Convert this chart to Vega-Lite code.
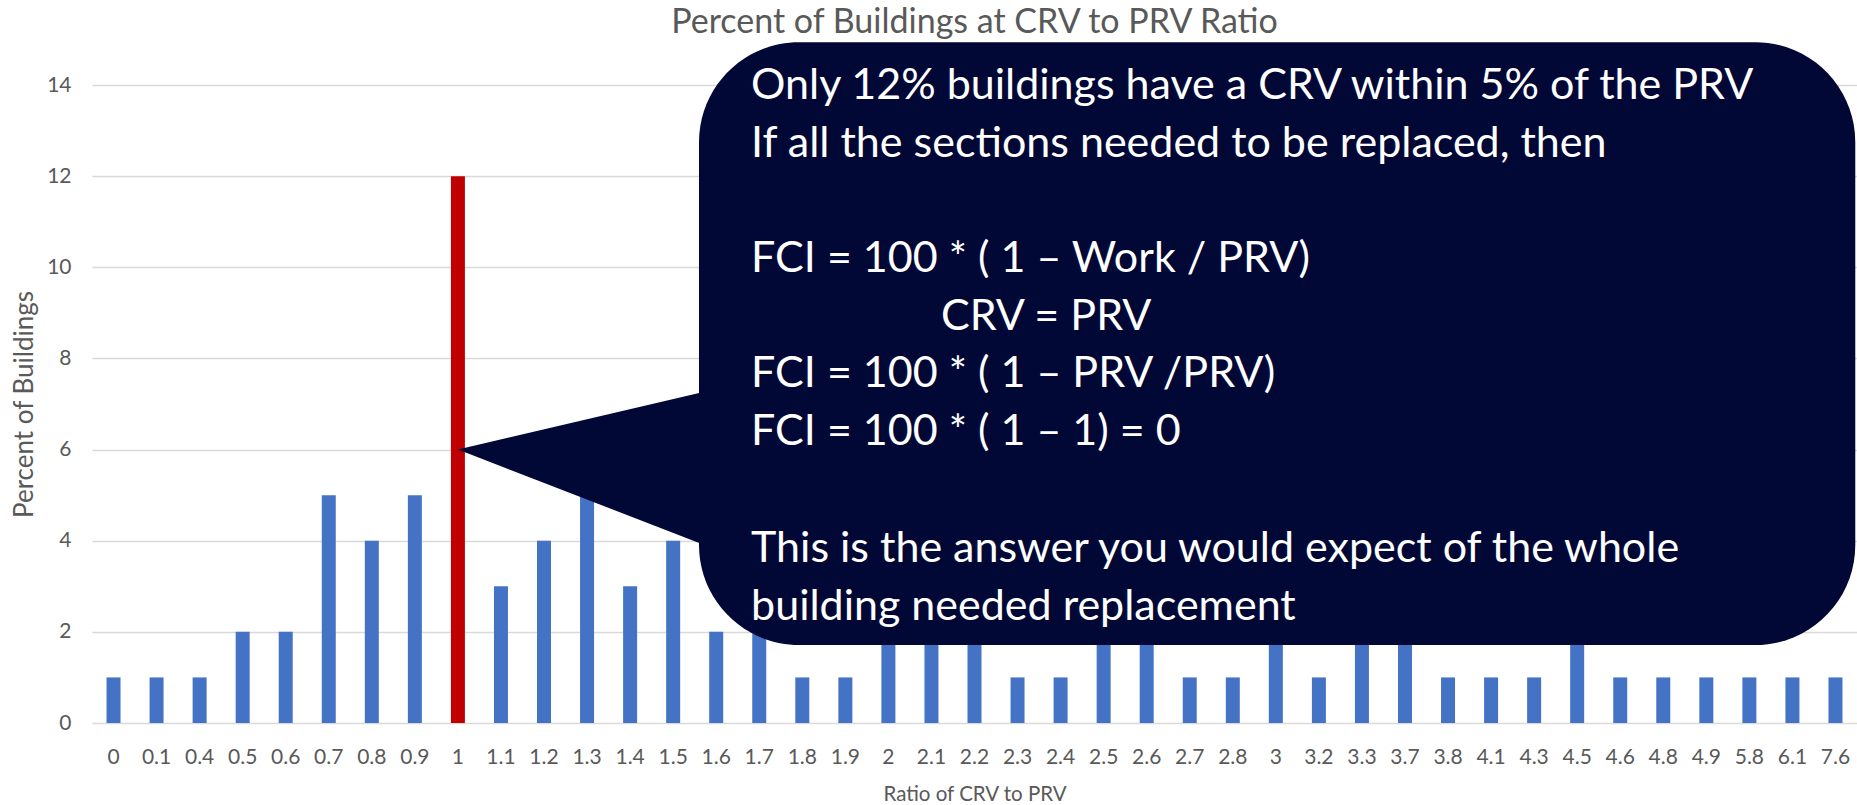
{
  "$schema": "https://vega.github.io/schema/vega-lite/v6.json",
  "width": 1765,
  "height": 638,
  "autosize": {"type": "none"},
  "padding": {"left": 92, "top": 85, "right": 0, "bottom": 82},
  "background": "white",
  "title": {"text": "Percent of Buildings at CRV to PRV Ratio", "font": "Lato", "fontSize": 34, "fontWeight": "normal", "color": "#595959", "anchor": "middle", "frame": "group", "baseline": "alphabetic", "offset": -25},
  "config": {
    "view": {"stroke": null},
    "axis": {"domain": false, "ticks": false, "labelColor": "#595959", "titleColor": "#595959", "labelFont": "Lato", "titleFont": "Lato", "titleFontWeight": "normal", "gridColor": "#d9d9d9", "gridWidth": 1.3},
    "text": {"font": "Lato", "fontSize": 43, "color": "white", "align": "left", "baseline": "alphabetic", "lineBreak": "\n", "lineHeight": 57.7}
  },
  "datasets": {
    "bars": [
      {"ratio": "0", "percent": 1}, {"ratio": "0.1", "percent": 1}, {"ratio": "0.4", "percent": 1}, {"ratio": "0.5", "percent": 2},
      {"ratio": "0.6", "percent": 2}, {"ratio": "0.7", "percent": 5}, {"ratio": "0.8", "percent": 4}, {"ratio": "0.9", "percent": 5},
      {"ratio": "1", "percent": 12}, {"ratio": "1.1", "percent": 3}, {"ratio": "1.2", "percent": 4}, {"ratio": "1.3", "percent": 5},
      {"ratio": "1.4", "percent": 3}, {"ratio": "1.5", "percent": 4}, {"ratio": "1.6", "percent": 2}, {"ratio": "1.7", "percent": 3},
      {"ratio": "1.8", "percent": 1}, {"ratio": "1.9", "percent": 1}, {"ratio": "2", "percent": 3}, {"ratio": "2.1", "percent": 4},
      {"ratio": "2.2", "percent": 3}, {"ratio": "2.3", "percent": 1}, {"ratio": "2.4", "percent": 1}, {"ratio": "2.5", "percent": 3},
      {"ratio": "2.6", "percent": 3}, {"ratio": "2.7", "percent": 1}, {"ratio": "2.8", "percent": 1}, {"ratio": "3", "percent": 3},
      {"ratio": "3.2", "percent": 1}, {"ratio": "3.3", "percent": 3}, {"ratio": "3.7", "percent": 3}, {"ratio": "3.8", "percent": 1},
      {"ratio": "4.1", "percent": 1}, {"ratio": "4.3", "percent": 1}, {"ratio": "4.5", "percent": 2}, {"ratio": "4.6", "percent": 1},
      {"ratio": "4.8", "percent": 1}, {"ratio": "4.9", "percent": 1}, {"ratio": "5.8", "percent": 1}, {"ratio": "6.1", "percent": 1},
      {"ratio": "7.6", "percent": 1}
    ]
  },
  "layer": [
    {
      "data": {"name": "bars"},
      "mark": {"type": "bar"},
      "encoding": {
        "x": {"field": "ratio", "type": "ordinal", "sort": null,
              "scale": {"paddingInner": 0.675, "paddingOuter": 0.3375},
              "axis": {"title": "Ratio of CRV to PRV", "labelAngle": 0, "labelFontSize": 21, "labelPadding": 23, "labelOverlap": false, "titleFontSize": 20.5, "titlePadding": 17, "grid": false}},
        "y": {"field": "percent", "type": "quantitative",
              "scale": {"domain": [0, 14], "nice": false},
              "axis": {"title": "Percent of Buildings", "values": [0, 2, 4, 6, 8, 10, 12, 14], "grid": true, "labelFontSize": 21, "labelPadding": 21, "titleFontSize": 26, "titlePadding": 9}},
        "color": {"condition": {"test": "datum.ratio === '1'", "value": "#C00000"}, "value": "#4472C4"}
      }
    },
    {
      "data": {"values": [{}]},
      "mark": {"type": "rect", "color": "#010836", "cornerRadius": 100},
      "encoding": {
        "x": {"datum": 14.1, "type": "quantitative", "scale": {"domain": [0, 41], "nice": false, "zero": false}, "axis": null},
        "x2": {"datum": 40.96},
        "y": {"datum": 14.94, "type": "quantitative", "scale": {"domain": [0, 14], "nice": false}, "axis": null},
        "y2": {"datum": 1.71}
      }
    },
    {
      "data": {"values": [{"u": 8.5, "upper": 6, "lower": 6}, {"u": 14.6, "upper": 7.35, "lower": 3.77}]},
      "mark": {"type": "area", "color": "#010836", "interpolate": "linear"},
      "encoding": {
        "x": {"field": "u", "type": "quantitative", "scale": {"domain": [0, 41], "nice": false, "zero": false}, "axis": null},
        "y": {"field": "upper", "type": "quantitative", "stack": null, "scale": {"domain": [0, 14], "nice": false}, "axis": null},
        "y2": {"field": "lower"}
      }
    },
    {
      "data": {"values": [{"note": "Only 12% buildings have a CRV within 5% of the PRV\nIf all the sections needed to be replaced, then"}]},
      "mark": {"type": "text"},
      "encoding": {
        "text": {"field": "note"},
        "x": {"datum": 15.31, "type": "quantitative", "scale": {"domain": [0, 41], "nice": false, "zero": false}, "axis": null},
        "y": {"datum": 13.693, "type": "quantitative", "scale": {"domain": [0, 14], "nice": false}, "axis": null}
      }
    },
    {
      "data": {"values": [{"note": "FCI = 100 * ( 1 – Work / PRV)"}]},
      "mark": {"type": "text"},
      "encoding": {
        "text": {"field": "note"},
        "x": {"datum": 15.31, "type": "quantitative", "scale": {"domain": [0, 41], "nice": false, "zero": false}, "axis": null},
        "y": {"datum": 9.897, "type": "quantitative", "scale": {"domain": [0, 14], "nice": false}, "axis": null}
      }
    },
    {
      "data": {"values": [{"note": "CRV = PRV"}]},
      "mark": {"type": "text"},
      "encoding": {
        "text": {"field": "note"},
        "x": {"datum": 19.72, "type": "quantitative", "scale": {"domain": [0, 41], "nice": false, "zero": false}, "axis": null},
        "y": {"datum": 8.624, "type": "quantitative", "scale": {"domain": [0, 14], "nice": false}, "axis": null}
      }
    },
    {
      "data": {"values": [{"note": "FCI = 100 * ( 1 – PRV /PRV)\nFCI = 100 * ( 1 – 1) = 0"}]},
      "mark": {"type": "text"},
      "encoding": {
        "text": {"field": "note"},
        "x": {"datum": 15.31, "type": "quantitative", "scale": {"domain": [0, 41], "nice": false, "zero": false}, "axis": null},
        "y": {"datum": 7.373, "type": "quantitative", "scale": {"domain": [0, 14], "nice": false}, "axis": null}
      }
    },
    {
      "data": {"values": [{"note": "This is the answer you would expect of the whole\nbuilding needed replacement"}]},
      "mark": {"type": "text"},
      "encoding": {
        "text": {"field": "note"},
        "x": {"datum": 15.31, "type": "quantitative", "scale": {"domain": [0, 41], "nice": false, "zero": false}, "axis": null},
        "y": {"datum": 3.533, "type": "quantitative", "scale": {"domain": [0, 14], "nice": false}, "axis": null}
      }
    }
  ],
  "resolve": {"scale": {"x": "independent", "y": "independent"}}
}
